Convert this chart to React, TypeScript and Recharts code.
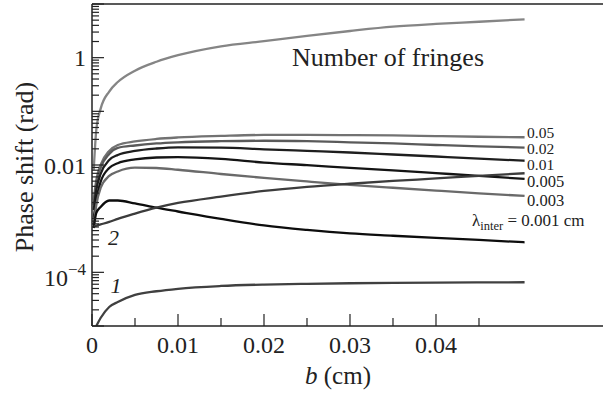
import React from 'react';
import { LineChart, Line, XAxis, YAxis, ReferenceLine } from 'recharts';

// b (cm) sample positions shared by all curves
const B = [0.0002, 0.0005, 0.001, 0.002, 0.003, 0.005, 0.0075, 0.01, 0.015, 0.02, 0.025, 0.03, 0.035, 0.04, 0.045, 0.0503];

// phase shift (rad)
const FRINGES = [0.0081, 0.045, 0.111, 0.234, 0.352, 0.573, 0.839, 1.11, 1.63, 2.03, 2.55, 3.14, 3.78, 4.25, 4.67, 5.19];
const L050 = [0.00223, 0.00526, 0.01, 0.0183, 0.0236, 0.0275, 0.0306, 0.0326, 0.0348, 0.0363, 0.0363, 0.036, 0.0355, 0.0345, 0.0336, 0.0329];
const L020 = [0.0018, 0.00443, 0.0088, 0.0161, 0.0208, 0.0231, 0.0252, 0.0265, 0.0278, 0.0283, 0.0278, 0.0265, 0.0252, 0.0236, 0.0222, 0.0211];
const L010 = [0.00145, 0.00343, 0.0068, 0.0124, 0.0154, 0.0183, 0.0203, 0.0213, 0.0211, 0.0196, 0.0183, 0.0171, 0.0157, 0.0144, 0.0132, 0.012];
const L005 = [0.00103, 0.00223, 0.00483, 0.0088, 0.0108, 0.0127, 0.0138, 0.014, 0.013, 0.0111, 0.00993, 0.00885, 0.00791, 0.00705, 0.00628, 0.0055];
const L003 = [0.00076, 0.0018, 0.00373, 0.00625, 0.00758, 0.00892, 0.0088, 0.00815, 0.0068, 0.00574, 0.00494, 0.00428, 0.00377, 0.00334, 0.00297, 0.00265];
const L001 = [0.00067, 0.00128, 0.00165, 0.00218, 0.00218, 0.00192, 0.0016, 0.00136, 0.00099, 0.000747, 0.000616, 0.00053, 0.00048, 0.000437, 0.000401, 0.000363];
const CURVE2 = [0.000716, 0.000738, 0.00078, 0.000869, 0.00099, 0.00124, 0.0016, 0.00196, 0.00258, 0.00328, 0.0039, 0.00447, 0.00504, 0.00561, 0.00628, 0.00702];
const CURVE1 = [null, 1.0e-5, 1.41e-5, 2.26e-5, 2.8e-5, 3.79e-5, 4.44e-5, 4.94e-5, 5.57e-5, 5.92e-5, 6.12e-5, 6.26e-5, 6.37e-5, 6.45e-5, 6.5e-5, 6.53e-5];

const X_TICKS = [0, 0.005, 0.01, 0.015, 0.02, 0.025, 0.03, 0.035, 0.04, 0.045];
const X_LABELS: Record<string, string> = { '0': '0', '0.01': '0.01', '0.02': '0.02', '0.03': '0.03', '0.04': '0.04' };

const Y_TICKS: number[] = [];
for (let e = -5; e <= 0; e++) {
  for (let k = 1; k <= 9; k++) Y_TICKS.push(Number((k * Math.pow(10, e)).toPrecision(3)));
}
Y_TICKS.push(10);

const SERIES = [
  { key: 'fringes', values: FRINGES, color: '#858585' },
  { key: 'l050', values: L050, color: '#727272' },
  { key: 'l020', values: L020, color: '#5a5a5a' },
  { key: 'l010', values: L010, color: '#1e1e1e' },
  { key: 'l005', values: L005, color: '#141414' },
  { key: 'l003', values: L003, color: '#6a6a6a' },
  { key: 'l001', values: L001, color: '#0d0d0d' },
  { key: 'c2', values: CURVE2, color: '#3c3c3c' },
  { key: 'c1', values: CURVE1, color: '#404040' },
];

const data = B.map((b, i) => {
  const row: Record<string, number | null> = { x: b };
  SERIES.forEach(s => { row[s.key] = s.values[i]; });
  return row;
});

const FONT = '"Liberation Serif", "Times New Roman", serif';
const AXIS = '#222';

const YTick = (props: any) => {
  const { x, y, payload } = props;
  const v = payload.value;
  const axisX = x + 6;
  const lg = Math.log10(v);
  const major = Math.abs(lg - Math.round(lg)) < 1e-6;
  let label: React.ReactNode = null;
  if (v === 1 || v === 0.01) {
    label = <text x={x} y={y + 8.5} textAnchor="end" fontSize={24} fontFamily={FONT} fill="#222">{v === 1 ? '1' : '0.01'}</text>;
  } else if (v === 0.0001) {
    label = (
      <text x={x} y={y + 14} textAnchor="end" fontSize={24} fontFamily={FONT} fill="#222">
        10<tspan fontSize={17} dy={-11}>−4</tspan>
      </text>
    );
  }
  return (
    <g>
      <line x1={axisX} x2={axisX + (major ? 12 : 7)} y1={y} y2={y} stroke={AXIS} strokeWidth={1.2} />
      {label}
    </g>
  );
};

const XTick = (props: any) => {
  const { x, y, payload } = props;
  const v = payload.value;
  const major = Math.round(v * 1000) % 10 === 0;
  const txt = X_LABELS[String(v)];
  return (
    <g>
      <line x1={x} x2={x} y1={y} y2={y - (major ? 12 : 8)} stroke={AXIS} strokeWidth={1.2} />
      {txt && <text x={x} y={y + 27} textAnchor="middle" fontSize={24} fontFamily={FONT} fill="#222">{txt}</text>}
    </g>
  );
};

export default function App() {
  return (
    <div style={{ position: 'absolute', left: 0, top: 0, width: 603, height: 394, background: '#fff' }}>
      <LineChart width={603} height={394} data={data} margin={{ top: 4, right: 0, bottom: 0, left: 0 }}>
        <XAxis
          dataKey="x"
          type="number"
          domain={[0, 0.05942]}
          ticks={X_TICKS}
          interval={0}
          tick={<XTick />}
          tickLine={false}
          tickSize={0}
          tickMargin={0}
          height={68}
          axisLine={{ stroke: AXIS, strokeWidth: 1.5 }}
          allowDataOverflow
        />
        <YAxis
          type="number"
          scale="log"
          domain={[1e-5, 10]}
          ticks={Y_TICKS}
          interval={0}
          tick={<YTick />}
          tickLine={false}
          tickSize={0}
          tickMargin={6}
          width={92}
          axisLine={{ stroke: AXIS, strokeWidth: 1.5 }}
          allowDataOverflow
        />
        <ReferenceLine y={10} stroke={AXIS} strokeWidth={1.5} />
        {SERIES.map(s => (
          <Line
            key={s.key}
            dataKey={s.key}
            type="monotone"
            stroke={s.color}
            strokeWidth={2.3}
            dot={false}
            activeDot={false}
            isAnimationActive={false}
          />
        ))}
      </LineChart>
      <svg width={603} height={394} style={{ position: 'absolute', left: 0, top: 0, pointerEvents: 'none' }} fontFamily={FONT} fill="#222">
        <text x={33} y={167} fontSize={26} textAnchor="middle" transform="rotate(-90 33 167)">Phase shift  (rad)</text>
        <text x={338} y={384} fontSize={25} textAnchor="middle"><tspan fontStyle="italic">b</tspan>  (cm)</text>
        <text x={388} y={66} fontSize={26} textAnchor="middle">Number of fringes</text>
        <text x={527} y={138} fontSize={15.5}>0.05</text>
        <text x={527} y={154} fontSize={15.5}>0.02</text>
        <text x={527} y={170} fontSize={15.5}>0.01</text>
        <text x={527} y={187} fontSize={16.5}>0.005</text>
        <text x={527} y={206} fontSize={16.5}>0.003</text>
        <text x={472} y={226} fontSize={17}>λ<tspan fontSize={12.5} dy={4}>inter</tspan><tspan dy={-4}> = 0.001 cm</tspan></text>
        <text x={113.5} y={245} fontSize={22} fontStyle="italic" textAnchor="middle">2</text>
        <text x={116} y={293} fontSize={22} fontStyle="italic" textAnchor="middle">1</text>
      </svg>
    </div>
  );
}
